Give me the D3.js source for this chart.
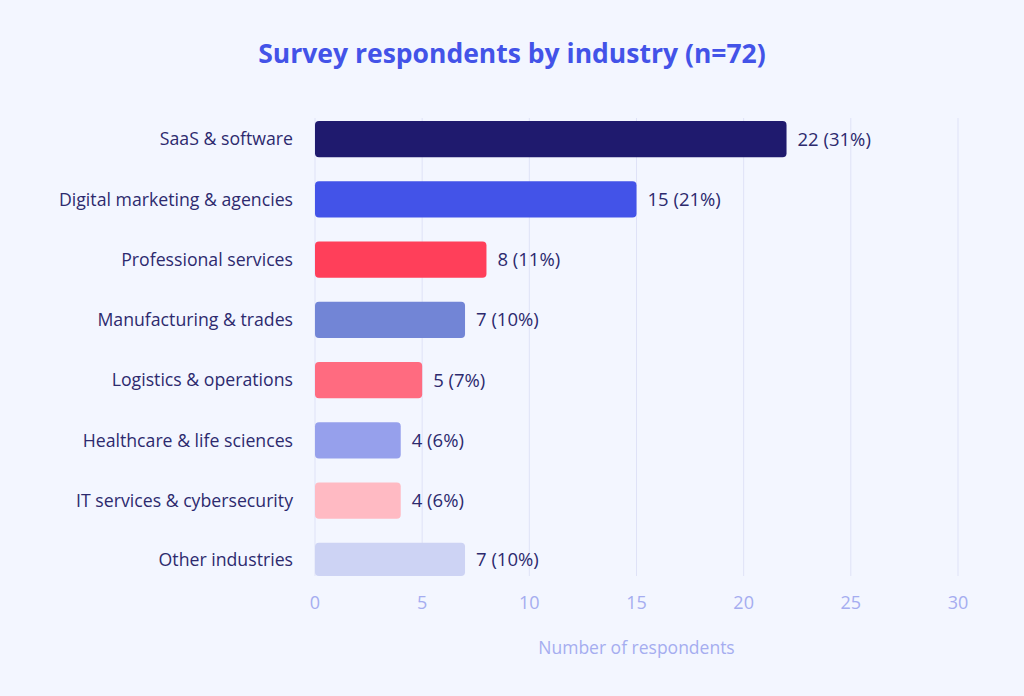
<!DOCTYPE html>
<html>
<head>
<meta charset="utf-8">
<script src="https://cdn.jsdelivr.net/npm/d3@7"></script>
<style>
  html, body { margin: 0; padding: 0; background: #f3f6ff; }
  svg { display: block; font-family: "Open Sans", Lato, sans-serif; }
</style>
</head>
<body>
<svg id="chart" width="1024" height="696"></svg>
<script>
const categories = [
  "SaaS & software",
  "Digital marketing & agencies",
  "Professional services",
  "Manufacturing & trades",
  "Logistics & operations",
  "Healthcare & life sciences",
  "IT services & cybersecurity",
  "Other industries"
];
const counts = [22, 15, 8, 7, 5, 4, 4, 7];
const percents = [31, 21, 11, 10, 7, 6, 6, 10];
const barColors = ["#1f1a6e", "#4353e8", "#ff3f5a", "#7285d6", "#ff6b80", "#96a0ec", "#ffbac3", "#cdd3f4"];
const xTicks = [0, 5, 10, 15, 20, 25, 30];
const titleText = "Survey respondents by industry (n=72)";
const xAxisTitle = "Number of respondents";

const svg = d3.select("#chart");
const W = 1024, H = 696;
const plot = { left: 315, right: 958, top: 118, bottom: 576 };

svg.append("rect").attr("width", W).attr("height", H).attr("fill", "#f3f6ff");

const x = d3.scaleLinear().domain([0, 30]).range([plot.left, plot.right]);
const y = d3.scaleBand().domain(categories).range([109, 591]).paddingInner(0.4).paddingOuter(0.2);

// gridlines
svg.append("g").selectAll("line").data(xTicks).join("line")
  .attr("x1", d => x(d)).attr("x2", d => x(d))
  .attr("y1", plot.top).attr("y2", plot.bottom)
  .attr("stroke", "#dfe2f7").attr("stroke-width", 1);

const data = categories.map((c, i) => ({ c, v: counts[i], p: percents[i], color: barColors[i] }));
const top0 = d => Math.max(plot.top, y(d.c));
const bot0 = d => Math.min(plot.bottom, y(d.c) + y.bandwidth());

// bars (kept inside plot area, rounded corners)
svg.append("g").selectAll("rect").data(data).join("rect")
  .attr("x", x(0))
  .attr("y", d => top0(d))
  .attr("width", d => x(d.v) - x(0))
  .attr("height", d => bot0(d) - top0(d))
  .attr("rx", 4).attr("ry", 4)
  .attr("fill", d => d.color);

// value labels
svg.append("g").selectAll("text").data(data).join("text")
  .attr("x", d => x(d.v) + 11)
  .attr("y", d => (top0(d) + bot0(d)) / 2)
  .attr("dy", "0.35em")
  .attr("font-size", 18.5)
  .attr("fill", "#2d2a6e")
  .text(d => `${d.v} (${d.p}%)`);

// category labels
svg.append("g").selectAll("text").data(data).join("text")
  .attr("x", plot.left - 22)
  .attr("y", d => (top0(d) + bot0(d)) / 2)
  .attr("dy", "0.35em")
  .attr("text-anchor", "end")
  .attr("font-size", 17.7)
  .attr("fill", "#2d2a6e")
  .text(d => d.c);

// x ticks
svg.append("g").selectAll("text").data(xTicks).join("text")
  .attr("x", d => x(d))
  .attr("y", 603)
  .attr("dy", "0.35em")
  .attr("text-anchor", "middle")
  .attr("font-size", 18)
  .attr("fill", "#a5adf0")
  .text(d => d);

// axis title
svg.append("text")
  .attr("x", (plot.left + plot.right) / 2)
  .attr("y", 648)
  .attr("dy", "0.35em")
  .attr("text-anchor", "middle")
  .attr("font-size", 17.5)
  .attr("fill", "#a5adf0")
  .text(xAxisTitle);

// title
svg.append("text")
  .attr("x", 512)
  .attr("y", 54)
  .attr("dy", "0.35em")
  .attr("text-anchor", "middle")
  .attr("font-size", 26.5)
  .attr("font-weight", 700)
  .attr("fill", "#4353e8")
  .text(titleText);
</script>
</body>
</html>
